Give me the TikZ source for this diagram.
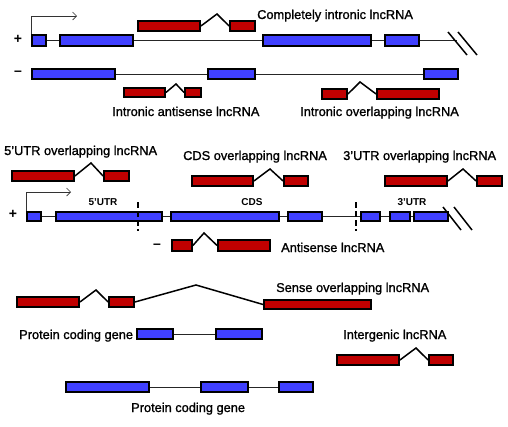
\documentclass[tikz,border=0pt]{standalone}
\usepackage{fontspec}
\setmainfont{Liberation Sans}
\newfontfamily\lblfont{Liberation Sans}[RawFeature={embolden=1.2}]
\newfontfamily\boldlbl{Liberation Sans Bold}
\usetikzlibrary{arrows.meta}
\definecolor{exred}{RGB}{192,0,0}
\definecolor{exblue}{RGB}{64,64,255}
\newcommand\exon[6]{\node[#1, minimum width={#4-#3}, minimum height={#6-#5}] (#2) at ({(#3+#4)/2},{(#5+#6)/2}) {};}
\tikzset{
  bex/.style={rectangle, inner sep=0pt, draw=black, line width=1.8pt, fill=exblue},
  rex/.style={rectangle, inner sep=0pt, draw=black, line width=1.8pt, fill=exred},
  intron/.style={draw=black!85, line width=1pt},
  splice/.style={draw=black, line width=1.5pt},
  prom/.style={draw=black!80, line width=0.7pt, -{Straight Barb[length=4pt,width=8pt]}},
  brk/.style={draw=black, line width=1.5pt},
  cut/.style={draw=black, line width=2.8pt, dash pattern=on 6pt off 3pt},
  lbl/.style={font=\fontsize{12.8}{14}\selectfont\lblfont, inner sep=0pt, anchor=base west},
  sub/.style={font=\fontsize{10}{11}\selectfont\boldlbl, inner sep=0pt, anchor=base},
  sgn/.style={font=\fontsize{14}{15}\selectfont\boldlbl, inner sep=0pt},
}
\begin{document}
\begin{tikzpicture}[x=1pt,y=-1pt]
\useasboundingbox (0,0) rectangle (508,426);
\fill[white] (0,0) rectangle (508,426);

% ===== Row 1: plus strand gene =====
\node[sgn] (plusA) at (18,39) {+};
\exon{bex}{a1}{32}{46}{35}{46}
\exon{bex}{a2}{60}{133}{35}{46}
\exon{bex}{a3}{263}{371}{35}{46}
\exon{bex}{a4}{385}{419}{35}{46}
\coordinate (aend) at (457,40.5);
\draw[intron] (a1.east) -- (a2.west);
\draw[intron] (a2.east) -- (a3.west);
\draw[intron] (a3.east) -- (a4.west);
\draw[intron] (a4.east) -- (aend);
\coordinate (arrA) at (77,16);
\draw[prom] (a1.north west) |- (arrA);
\coordinate (brkA1) at (448,32); \coordinate (brkA2) at (467,55);
\coordinate (brkA3) at (458,32); \coordinate (brkA4) at (477,55);
\draw[brk] (brkA1) -- (brkA2);
\draw[brk] (brkA3) -- (brkA4);

% completely intronic
\exon{rex}{ci1}{138}{200}{21}{31}
\exon{rex}{ci2}{230}{255}{21}{31}
\coordinate (ciP) at (217,14);
\draw[splice] (ci1.east) -- (ciP) -- (ci2.west);
\node[lbl] (ciL) at (257,19) {Completely intronic lncRNA};

% ===== minus strand gene =====
\node[sgn] (minusA) at (18,73) {–};
\exon{bex}{b1}{32}{115}{69}{79}
\exon{bex}{b2}{208}{255}{69}{79}
\exon{bex}{b3}{424}{458}{69}{79}
\draw[intron] (b1.east) -- (b2.west);
\draw[intron] (b2.east) -- (b3.west);

% intronic antisense
\exon{rex}{ia1}{124}{165}{88}{97}
\exon{rex}{ia2}{185}{201}{88}{97}
\coordinate (iaP) at (176,84);
\draw[splice] (ia1.east) -- (iaP) -- (ia2.west);
\node[lbl] (iaL) at (112,116) {Intronic antisense lncRNA};

% intronic overlapping
\exon{rex}{io1}{322}{347}{89}{99}
\exon{rex}{io2}{377}{439}{89}{99}
\coordinate (ioP) at (360,82);
\draw[splice] (io1.east) -- (ioP) -- (io2.west);
\node[lbl] (ioL) at (300,116) {Intronic overlapping lncRNA};

% ===== Row 2 =====
\node[lbl] (u5L) at (4,155) {5’UTR overlapping lncRNA};
\exon{rex}{u51}{12}{74}{171}{181}
\exon{rex}{u52}{104}{129}{171}{181}
\coordinate (u5P) at (91,163);
\draw[splice] (u51.east) -- (u5P) -- (u52.west);

\node[lbl] (cdsL) at (183,160) {CDS overlapping lncRNA};
\exon{rex}{cd1}{192}{253}{176}{186}
\exon{rex}{cd2}{284}{308}{176}{186}
\coordinate (cdP) at (270,169);
\draw[splice] (cd1.east) -- (cdP) -- (cd2.west);

\node[lbl] (u3L) at (343,160) {3’UTR overlapping lncRNA};
\exon{rex}{u31}{385}{447}{176}{186}
\exon{rex}{u32}{477}{502}{176}{186}
\coordinate (u3P) at (463,169);
\draw[splice] (u31.east) -- (u3P) -- (u32.west);

% plus strand gene row 2
\node[sgn] (plusB) at (13,214) {+};
\exon{bex}{c1}{27}{41}{212}{221}
\exon{bex}{c2}{56}{162}{212}{221}
\exon{bex}{c3}{171}{279}{212}{221}
\exon{bex}{c4}{288}{322}{212}{221}
\exon{bex}{c5}{361}{380}{212}{221}
\exon{bex}{c6}{390}{410}{212}{221}
\exon{bex}{c7}{414}{448}{212}{221}
\draw[intron] (c1.east) -- (c2.west);
\draw[intron] (c2.east) -- (c3.west);
\draw[intron] (c3.east) -- (c4.west);
\draw[intron] (c4.east) -- (c5.west);
\draw[intron] (c5.east) -- (c6.west);
\draw[intron] (c6.east) -- (c7.west);
\coordinate (arrB) at (71,192);
\draw[prom] (c1.north west) |- (arrB);
\coordinate (cutA1) at (138,202); \coordinate (cutA2) at (138,231);
\coordinate (cutB1) at (356,202); \coordinate (cutB2) at (356,231);
\draw[cut] (cutA1) -- (cutA2);
\draw[cut] (cutB1) -- (cutB2);
\coordinate (brkB1) at (443,207); \coordinate (brkB2) at (461,230);
\coordinate (brkB3) at (454,207); \coordinate (brkB4) at (472,230);
\draw[brk] (brkB1) -- (brkB2);
\draw[brk] (brkB3) -- (brkB4);
\node[sub] (s5) at (103,205) {5’UTR};
\node[sub] (scds) at (252,205) {CDS};
\node[sub] (s3) at (412,205) {3’UTR};

% antisense
\node[sgn] (minusB) at (157,246) {–};
\exon{rex}{as1}{172}{192}{240}{251}
\exon{rex}{as2}{218}{270}{240}{251}
\coordinate (asP) at (204,233);
\draw[splice] (as1.east) -- (asP) -- (as2.west);
\node[lbl] (asL) at (281,252) {Antisense lncRNA};

% ===== Row 3 =====
\exon{rex}{so1}{17}{79}{297}{307}
\exon{rex}{so2}{109}{134}{297}{307}
\exon{rex}{so3}{264}{371}{300}{309}
\coordinate (soP1) at (96,290);
\coordinate (soP2) at (196,285);
\draw[splice] (so1.east) -- (soP1) -- (so2.west);
\draw[splice] (so2.east) -- (soP2) -- (so3.west);
\node[lbl] (soL) at (276,292) {Sense overlapping lncRNA};

\node[lbl] (pc1L) at (19,339) {Protein coding gene};
\exon{bex}{d1}{137}{173}{329}{339}
\exon{bex}{d2}{216}{262}{329}{339}
\draw[intron] (d1.east) -- (d2.west);

\node[lbl] (igL) at (343,339) {Intergenic lncRNA};
\exon{rex}{ig1}{337}{399}{355}{365}
\exon{rex}{ig2}{429}{453}{355}{365}
\coordinate (igP) at (416,348);
\draw[splice] (ig1.east) -- (igP) -- (ig2.west);

\exon{bex}{e1}{66}{149}{382}{392}
\exon{bex}{e2}{201}{248}{382}{392}
\exon{bex}{e3}{279}{313}{382}{392}
\draw[intron] (e1.east) -- (e2.west);
\draw[intron] (e2.east) -- (e3.west);
\node[lbl] (pc2L) at (131,412) {Protein coding gene};
\end{tikzpicture}
\end{document}
